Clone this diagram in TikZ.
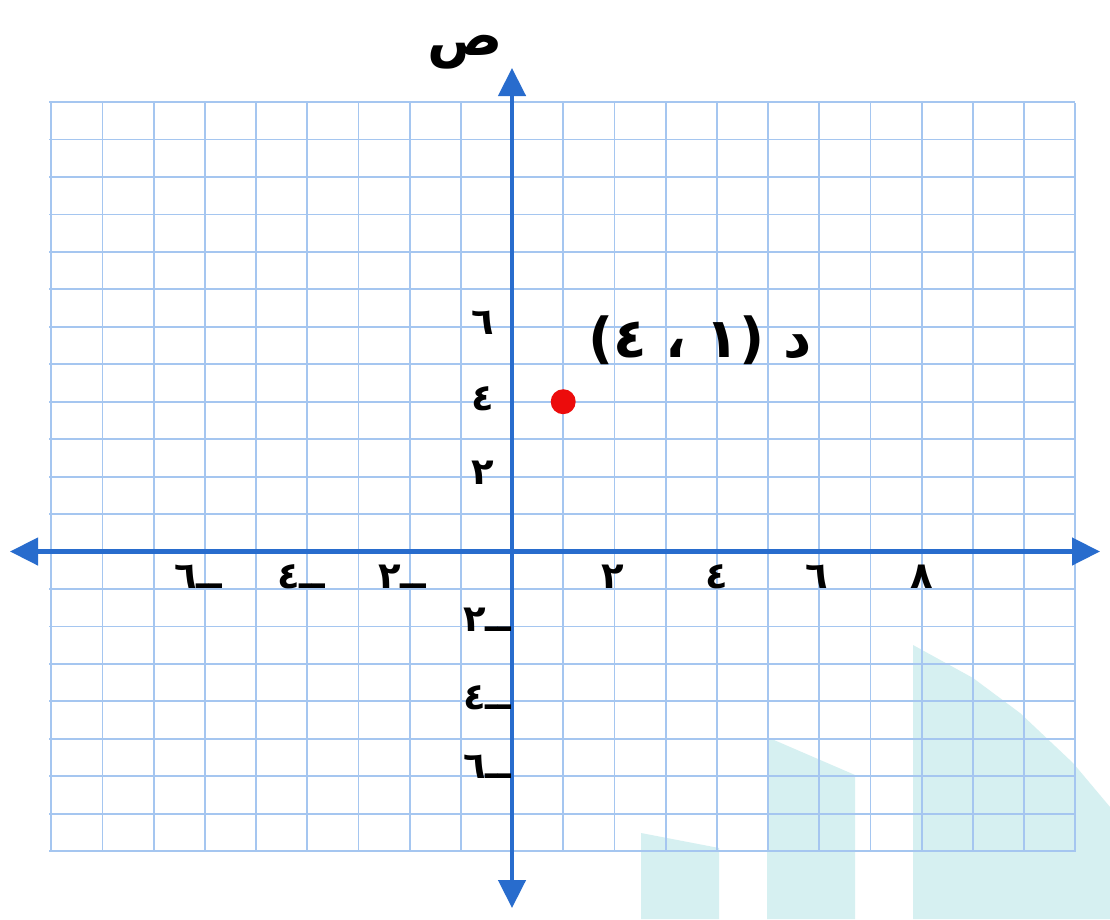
\documentclass[tikz,border=0pt]{standalone}
\usepackage{fontspec}
\usetikzlibrary{arrows.meta}
\TeXXeTstate=1
\newfontfamily\arabicfont[Script=Arabic]{DejaVu Sans}
\definecolor{gridblue}{RGB}{165,198,240}
\definecolor{axisblue}{RGB}{40,108,205}
\definecolor{wmark}{RGB}{214,240,241}
\definecolor{ptred}{RGB}{236,12,12}
\tikzset{
  gridline/.style={draw=gridblue, line width=1.8pt},
  axisline/.style={draw=axisblue, line width=4.5pt,
    {Triangle[length=28pt,width=27pt]}-{Triangle[length=28pt,width=27pt]}},
  num/.style={font=\arabicfont\bfseries\fontsize{37}{40}\selectfont, inner sep=0pt, text=black},
  axlabel/.style={font=\arabicfont\bfseries\fontsize{56}{60}\selectfont, inner sep=0pt, text=black},
  ptlabel/.style={font=\arabicfont\bfseries\fontsize{55}{60}\selectfont, inner sep=0pt, text=black},
  ptdot/.style={circle, fill=ptred, minimum size=25pt, inner sep=0pt}
}
\begin{document}
\begin{tikzpicture}[x=1pt,y=-1pt]
\useasboundingbox (0,0) rectangle (1110,919);
\fill[white] (0,0) rectangle (1110,919);
% watermark shapes
\fill[wmark] (641,919) -- (641,833) -- (719,848) -- (719,919) -- cycle;
\fill[wmark] (767,919) -- (767,737) -- (855,775) -- (855,919) -- cycle;
\fill[wmark] (913,919) -- (913,645) -- (973,678) -- (1020,713) -- (1073,763) -- (1110,807) -- (1110,919) -- cycle;
% grid
\foreach \i in {-9,...,11}
  \draw[gridline] ({512+51.2*\i},103) -- ({512+51.2*\i},852);
\foreach \j in {-8,...,12}
  \draw[gridline] (49,{551.5-37.45*\j}) -- (1075,{551.5-37.45*\j});
% axes
\coordinate (xl) at (10,551.5);
\coordinate (xr) at (1100,551.5);
\coordinate (yt) at (512,68);
\coordinate (yb) at (512,908);
\draw[axisline] (xl) -- (xr);
\draw[axisline] (yb) -- (yt);
% axis name
\node[axlabel] (ylab) at (465,52) {\beginR ص\endR};
% x labels
\node[num] (xp2) at (613,577) {\beginR ٢\endR};
\node[num] (xp4) at (717,577) {\beginR ٤\endR};
\node[num] (xp6) at (817,577) {\beginR ٦\endR};
\node[num] (xp8) at (922,577) {\beginR ٨\endR};
\node[num] (xn2) at (402,577) {\beginR ــ٢\endR};
\node[num] (xn4) at (301,577) {\beginR ــ٤\endR};
\node[num] (xn6) at (198,577) {\beginR ــ٦\endR};
% y labels
\node[num] (yp6) at (483,323) {\beginR ٦\endR};
\node[num] (yp4) at (483,399) {\beginR ٤\endR};
\node[num] (yp2) at (483,473) {\beginR ٢\endR};
\node[num] (yn2) at (487,620) {\beginR ــ٢\endR};
\node[num] (yn4) at (487,698) {\beginR ــ٤\endR};
\node[num] (yn6) at (487,767) {\beginR ــ٦\endR};
% point D
\node[ptdot] (D) at (563.2,401.7) {};
\node[ptlabel] (Dlab) at (700,340) {\beginR د (١ ، ٤)\endR};
\end{tikzpicture}
\end{document}
